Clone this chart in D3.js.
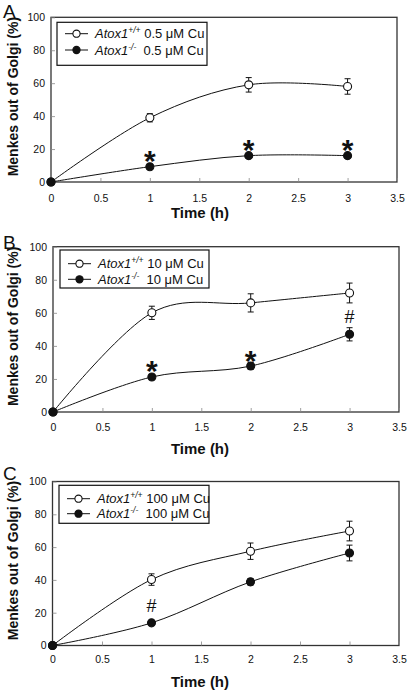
<!DOCTYPE html>
<html><head><meta charset="utf-8">
<script src="https://cdn.jsdelivr.net/npm/d3@7"></script>
<style>body{margin:0;background:#fff}svg{display:block}text{font-family:"Liberation Sans",Arial,Helvetica,sans-serif}</style>
</head><body><svg id="c" width="410" height="693"></svg>
<script>
// ---- data ----
const times = [0, 1, 2, 3];
const xTicks = [0, 0.5, 1, 1.5, 2, 2.5, 3, 3.5];
const yTicks = [0, 20, 40, 60, 80, 100];
const panelLetters = ["A", "B", "C"];
const copperDoses = ["0.5", "10", "100"];

const wtA = [0, 39, 59, 58];
const wtErrA = [0, 2.5, 4.4, 4.7];
const koA = [0, 9.3, 16, 16];
const koErrA = [0, 1, 1, 1];
const sigA = ["", "*", "*", "*"];

const wtB = [0, 60, 66, 72];
const wtErrB = [0, 4, 5.5, 6];
const koB = [0, 21.2, 27.8, 47];
const koErrB = [0, 1, 2, 4];
const sigB = ["", "*", "*", "#"];

const wtC = [0, 40.2, 57.5, 69.8];
const wtErrC = [0, 3.5, 5, 6];
const koC = [0, 13.8, 38.8, 56.4];
const koErrC = [0, 1, 2, 4.8];
const sigC = ["", "#", "", ""];

const panels = [
  {letter: panelLetters[0], dose: copperDoses[0], wt: wtA, wtErr: wtErrA, ko: koA, koErr: koErrA, sig: sigA,
   l: 51, r: 397, t: 17.3, b: 182, top: 0, tickPad: 13, titleY: 218,
   leg: {x: 57, y: 22.3, w: 150, h: 43, r1: 33.7, r2: 50}},
  {letter: panelLetters[1], dose: copperDoses[1], wt: wtB, wtErr: wtErrB, ko: koB, koErr: koErrB, sig: sigB,
   l: 53, r: 399, t: 246.7, b: 412, top: 231, tickPad: 11.5, titleY: 454,
   leg: {x: 60, y: 250, w: 149, h: 38, r1: 263.7, r2: 279.3}},
  {letter: panelLetters[2], dose: copperDoses[2], wt: wtC, wtErr: wtErrC, ko: koC, koErr: koErrC, sig: sigC,
   l: 52.5, r: 399, t: 481.5, b: 645.5, top: 462, tickPad: 10, titleY: 687,
   leg: {x: 59, y: 485.3, w: 150, h: 38, r1: 498.7, r2: 513.7}}
];

const svg = d3.select("#c");
const ink = "#111";

panels.forEach(p => {
  const g = svg.append("g");
  const x = d3.scaleLinear().domain([0, 3.5]).range([p.l, p.r]);
  const y = d3.scaleLinear().domain([0, 100]).range([p.b, p.t]);

  // panel letter
  g.append("text").attr("x", 3).attr("y", p.top + 17.5).attr("font-size", 19).attr("fill", ink).text(p.letter);

  // frame
  g.append("rect").attr("x", p.l).attr("y", p.t).attr("width", p.r - p.l).attr("height", p.b - p.t)
    .attr("fill", "none").attr("stroke", "#333").attr("stroke-width", 1.3);

  // axes (inward ticks)
  const xa = g.append("g").attr("transform", `translate(0,${p.b})`)
    .call(d3.axisBottom(x).tickValues(xTicks).tickFormat(d3.format("")).tickSize(-4).tickPadding(p.tickPad));
  const ya = g.append("g").attr("transform", `translate(${p.l},0)`)
    .call(d3.axisLeft(y).tickValues(yTicks).tickSize(-4).tickPadding(6));
  [xa, ya].forEach(a => {
    a.select(".domain").remove();
    a.selectAll("line").attr("stroke", "#888").attr("stroke-width", 0.8);
    a.selectAll("text").attr("font-size", 10.5).attr("fill", ink)
      .attr("font-family", '"Liberation Sans",Arial,sans-serif');
  });
  xa.selectAll("text").attr("dy", "0.71em");

  // axis titles
  g.append("text").attr("x", 200).attr("y", p.titleY).attr("text-anchor", "middle")
    .attr("font-size", 15).attr("font-weight", "bold").attr("fill", ink).text("Time (h)");
  g.append("text").attr("transform", `translate(18,${(p.t + p.b) / 2 - 3}) rotate(-90)`)
    .attr("text-anchor", "middle").attr("font-size", 14).attr("font-weight", "bold").attr("fill", ink)
    .text("Menkes out of Golgi (%)");

  const line = d3.line().x((d, i) => x(times[i])).y(d => y(d)).curve(d3.curveCardinal.tension(0));

  [[p.wt, p.wtErr, "#fff"], [p.ko, p.koErr, ink]].forEach(([vals, errs, fill]) => {
    g.append("path").attr("d", line(vals)).attr("fill", "none").attr("stroke", ink).attr("stroke-width", 1);
    vals.forEach((v, i) => {
      if (errs[i] > 0) {
        const cx = x(times[i]), y1 = y(v + errs[i]), y2 = y(v - errs[i]);
        g.append("path").attr("d", `M${cx},${y1}V${y2}M${cx - 3},${y1}H${cx + 3}M${cx - 3},${y2}H${cx + 3}`)
          .attr("stroke", ink).attr("stroke-width", 1).attr("fill", "none");
      }
    });
    g.selectAll(null).data(vals).join("circle")
      .attr("cx", (d, i) => x(times[i])).attr("cy", d => y(d)).attr("r", 4)
      .attr("fill", fill).attr("stroke", ink).attr("stroke-width", 1.1);
  });

  // significance marks
  p.sig.forEach((s, i) => {
    if (!s) return;
    const cx = x(times[i]);
    const cy = y(p.ko[i]);
    if (s === "*") {
      g.append("text").attr("x", cx).attr("y", cy + 4.5).attr("text-anchor", "middle")
        .attr("font-size", 30).attr("font-weight", "bold").attr("fill", ink).text("*");
    } else {
      g.append("text").attr("x", cx).attr("y", cy - 11).attr("text-anchor", "middle")
        .attr("font-size", 18).attr("fill", ink).text("#");
    }
  });

  // legend
  const L = p.leg;
  g.append("rect").attr("x", L.x).attr("y", L.y).attr("width", L.w).attr("height", L.h)
    .attr("fill", "#fff").attr("stroke", ink).attr("stroke-width", 1.2);
  [[L.r1, "#fff", "+/+", " "], [L.r2, ink, "-/-", "\u00a0 "]].forEach(([ry, fill, sup, gap]) => {
    g.append("line").attr("x1", L.x + 8).attr("x2", L.x + 31).attr("y1", ry).attr("y2", ry)
      .attr("stroke", ink).attr("stroke-width", 1);
    g.append("circle").attr("cx", L.x + 19.5).attr("cy", ry).attr("r", 3.6)
      .attr("fill", fill).attr("stroke", ink).attr("stroke-width", 1.1);
    const t = g.append("text").attr("x", L.x + 38).attr("y", ry + 4.5).attr("font-size", 13).attr("fill", ink);
    t.append("tspan").attr("font-style", "italic").text("Atox1");
    t.append("tspan").attr("font-style", "italic").attr("font-size", 8.5).attr("dy", -5).text(sup);
    t.append("tspan").attr("dy", 5).text(gap + p.dose + " \u03bcM Cu");
  });
});
</script></body></html>
